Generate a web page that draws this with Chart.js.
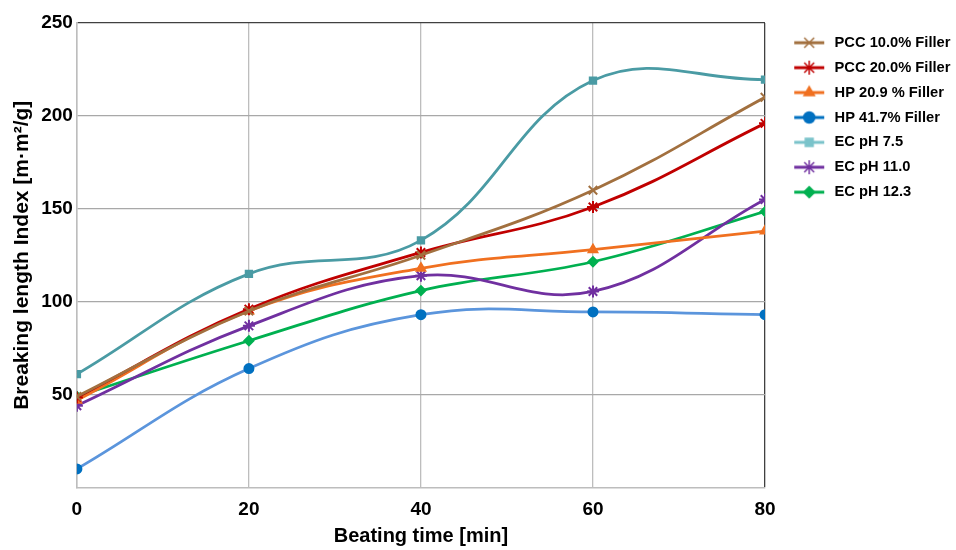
<!DOCTYPE html>
<html><head><title>Breaking length index vs beating time</title>
<script src="https://cdn.jsdelivr.net/npm/chart.js"></script>
<style>
    body { margin: 0; background: #fff; }
    #wrap { width: 956px; height: 550px; }
</style>
</head>
<body>
<div id="wrap"><canvas id="chart" width="956" height="550"></canvas></div>
<script>
const beatingTime = [0, 20, 40, 60, 80];
const seriesNames = ['PCC 10.0% Filler', 'PCC 20.0% Filler', 'HP 20.9 % Filler', 'HP 41.7% Filler', 'EC pH 7.5', 'EC pH 11.0', 'EC pH 12.3'];
const pcc10 = [49, 95, 125, 160, 210];
const pcc20 = [48.5, 96, 126.5, 151, 196];
const hp209 = [47, 95, 118, 128, 138];
const hp417 = [10, 64, 93, 94.5, 93];
const ecPh75 = [61, 115, 133, 219, 219.5];
const ecPh110 = [44, 87, 114, 105.5, 155];
const ecPh123 = [49, 79, 106, 121.5, 148.5];
const yTicks = [50, 100, 150, 200, 250];

const seriesValues = [pcc10, pcc20, hp209, hp417, ecPh75, ecPh110, ecPh123];
const lineColors = ['#a2703f', '#c00000', '#f07020', '#5b95dc', '#4a9ba4', '#7030a0', '#00b050'];
const markColors = ['#a2703f', '#c00000', '#f07020', '#0070c0', '#4a9ba4', '#7030a0', '#00b050'];
const legendLine = ['#a2703f', '#c00000', '#f07020', '#0070c0', '#7ac3ca', '#7030a0', '#00b050'];
const markers = ['crossRot', 'star', 'triangle', 'circle', 'rect', 'star', 'rectRot'];
const markSize = [6, 6, 5, 4.5, 4.5, 6, 4.5];

const FONT = 'Liberation Sans, Arial, sans-serif';

// legend swatch: a short line with the marker in the middle
function legendIcon(i) {
    const c = document.createElement('canvas');
    c.width = 52; c.height = 18;
    const g = c.getContext('2d');
    g.strokeStyle = legendLine[i];
    g.fillStyle = legendLine[i];
    g.lineWidth = 3;
    g.beginPath(); g.moveTo(19, 9); g.lineTo(49, 9); g.stroke();
    g.lineWidth = 1.5;
    Chart.helpers.drawPoint(g, {
        pointStyle: markers[i], radius: markSize[i] + 1, borderWidth: 1.5
    }, 34, 9);
    return c;
}

const datasets = seriesNames.map((name, i) => ({
    label: name,
    data: beatingTime.map((t, j) => ({ x: t, y: seriesValues[i][j] })),
    borderColor: lineColors[i],
    backgroundColor: markColors[i],
    pointBorderColor: markColors[i],
    pointBackgroundColor: markColors[i],
    pointStyle: markers[i],
    pointRadius: markSize[i],
    pointBorderWidth: 2,
    borderWidth: 2.8,
    tension: 0.4,
    fill: false
}));

const ctx = document.getElementById('chart').getContext('2d');
const chart = new Chart(ctx, {
    type: 'line',
    data: { datasets },
    options: {
        responsive: false,
        animation: false,
        layout: { padding: { top: 23, right: 0, left: 4, bottom: 0 } },
        plugins: {
            legend: {
                position: 'right',
                align: 'start',
                maxWidth: 191,
                title: { display: true, text: ' ', font: { size: 1 }, padding: 0.5 },
                labels: {
                    usePointStyle: true,
                    pointStyleWidth: 52,
                    padding: 10.2,
                    color: '#000',
                    font: { family: FONT, size: 14.7, weight: 'bold' },
                    generateLabels: (ch) => ch.data.datasets.map((ds, i) => ({
                        text: ds.label,
                        pointStyle: legendIcon(i),
                        fillStyle: markColors[i],
                        strokeStyle: markColors[i],
                        lineWidth: 0,
                        fontColor: '#000',
                        datasetIndex: i,
                        hidden: false
                    }))
                }
            },
            tooltip: { enabled: false }
        },
        scales: {
            x: {
                type: 'linear',
                min: 0, max: 80,
                ticks: {
                    stepSize: 20,
                    color: '#000',
                    padding: 12.5,
                    font: { family: FONT, size: 19, weight: 'bold', lineHeight: 1 }
                },
                grid: {
                    color: (c) => c.tick && c.tick.value === 80 ? '#404040' : '#bdbdbd',
                    lineWidth: 1.3,
                    drawTicks: false
                },
                border: { color: '#bdbdbd', width: 1.5 },
                title: {
                    display: true,
                    text: 'Beating time [min]',
                    color: '#000',
                    padding: { top: -7.5, bottom: 2 },
                    font: { family: FONT, size: 20, weight: 'bold' }
                }
            },
            y: {
                min: 0, max: 250,
                afterBuildTicks: (axis) => { axis.ticks = yTicks.map(v => ({ value: v })); },
                ticks: {
                    color: '#000',
                    padding: 4,
                    font: { family: FONT, size: 19, weight: 'bold', lineHeight: 0.2 }
                },
                grid: {
                    color: (c) => c.tick && c.tick.value === 250 ? '#404040' : '#a8a8a8',
                    lineWidth: 1.3,
                    drawTicks: false
                },
                border: { color: '#bdbdbd', width: 1.5 },
                title: {
                    display: true,
                    text: 'Breaking length Index [m·m²/g]',
                    color: '#000',
                    padding: { top: 6, bottom: 2 },
                    font: { family: FONT, size: 21, weight: 'bold' }
                }
            }
        }
    }
});
</script>
</body>
</html>
